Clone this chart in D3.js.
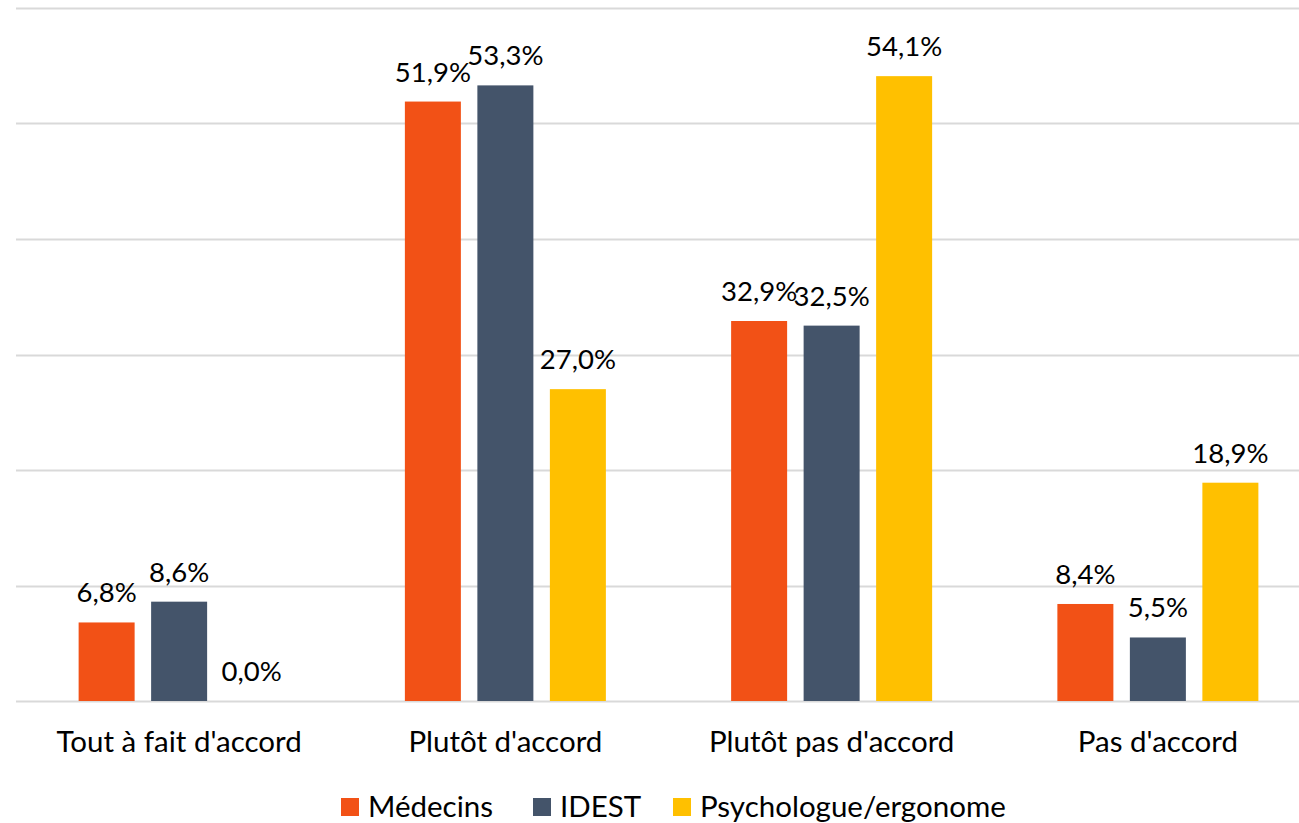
<!DOCTYPE html>
<html><head><meta charset="utf-8">
<script src="https://cdn.jsdelivr.net/npm/d3@7"></script>
<style>body{margin:0;background:#fff}svg{display:block}text{font-family:Lato,"Open Sans",sans-serif;fill:#000}</style>
</head><body><svg id="c" width="1299" height="823"></svg>
<script>
const categories = ["Tout à fait d'accord","Plutôt d'accord","Plutôt pas d'accord","Pas d'accord"];
const seriesNames = ["Médecins","IDEST","Psychologue/ergonome"];
const medecins = [6.8, 51.9, 32.9, 8.4];
const idest = [8.6, 53.3, 32.5, 5.5];
const psycho = [0.0, 27.0, 54.1, 18.9];
const yTicks = [0,10,20,30,40,50,60];
const colors = ["#F25116","#44546A","#FFC000"];

(function(){
const seriesValues = [medecins, idest, psycho];
const svg = d3.select("#c");
const pl = 16, pr = 1321, pt = 8, pb = 701;
const y = d3.scaleLinear().domain([0,60]).range([pb, pt]);
const x0 = d3.scaleBand().domain(categories).range([pl, pr]);
const groupW = 201;
const x1 = d3.scaleBand().domain(seriesNames)
  .range([(x0.bandwidth()-groupW)/2, (x0.bandwidth()+groupW)/2]).paddingInner(0.2276);
const fmt = v => v.toFixed(1).replace(".", ",") + "%";

svg.append("g").selectAll("line").data(yTicks).join("line")
  .attr("x1", pl).attr("x2", 1299)
  .attr("y1", d => Math.round(y(d))+0.5).attr("y2", d => Math.round(y(d))+0.5)
  .attr("stroke", "#d9d9d9").attr("stroke-width", 2);

const g = svg.append("g").selectAll("g").data(categories).join("g")
  .attr("transform", d => `translate(${x0(d)},0)`);
g.selectAll("rect").data((c,i) => seriesNames.map((s,j) => ({s, j, v: seriesValues[j][i]}))).join("rect")
  .attr("x", d => x1(d.s)).attr("width", x1.bandwidth())
  .attr("y", d => y(d.v)).attr("height", d => pb - y(d.v))
  .attr("fill", d => colors[d.j]);
g.selectAll("text.v").data((c,i) => seriesNames.map((s,j) => ({s, j, v: seriesValues[j][i]}))).join("text")
  .attr("class","v")
  .attr("x", d => x1(d.s) + x1.bandwidth()/2).attr("y", d => y(d.v) - 20)
  .attr("text-anchor","middle").attr("font-size", 27.5).text(d => fmt(d.v));

svg.append("g").selectAll("text").data(categories).join("text")
  .attr("x", d => x0(d) + x0.bandwidth()/2).attr("y", 752)
  .attr("text-anchor","middle").attr("font-size", 29.5).text(d => d);

const legX = [341, 533, 673];
const leg = svg.append("g").selectAll("g").data(seriesNames).join("g")
  .attr("transform", (d,i) => `translate(${legX[i]},798)`);
leg.append("rect").attr("width", 18).attr("height", 18).attr("fill", (d,i) => colors[i]);
leg.append("text").attr("x", 27).attr("y", 19).attr("font-size", 29.5).text(d => d);
})();
</script></body></html>
